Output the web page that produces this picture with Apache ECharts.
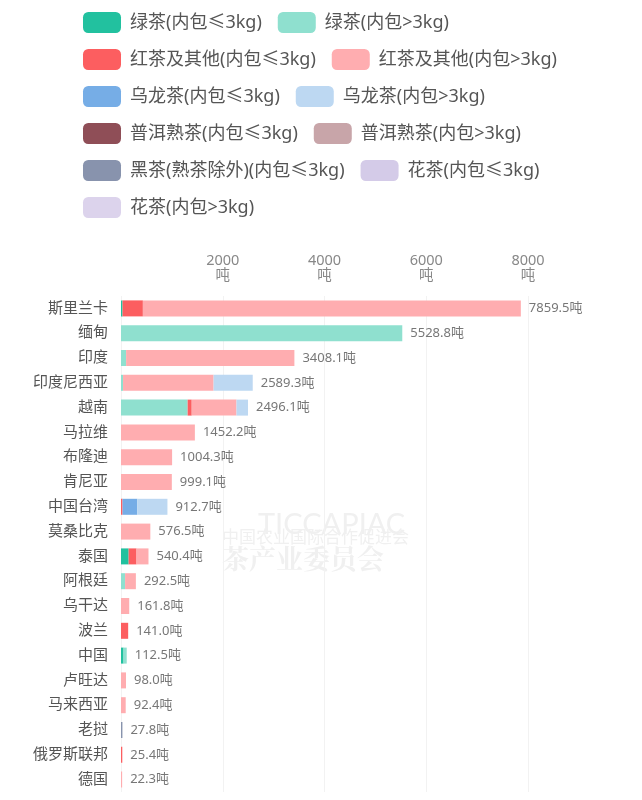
<!DOCTYPE html>
<html>
<head>
<meta charset="utf-8">
<script src="https://cdn.jsdelivr.net/npm/echarts@6/dist/echarts.min.js"></script>
<style>html,body{margin:0;padding:0;background:#fff;}#c{width:642px;height:800px;}</style>
</head>
<body>
<div id="c"></div>
<script>
const categories = ['斯里兰卡','缅甸','印度','印度尼西亚','越南','马拉维','布隆迪','肯尼亚','中国台湾','莫桑比克','泰国','阿根廷','乌干达','波兰','中国','卢旺达','马来西亚','老挝','俄罗斯联邦','德国'];
const totals = [7859.5,5528.8,3408.1,2589.3,2496.1,1452.2,1004.3,999.1,912.7,576.5,540.4,292.5,161.8,141.0,112.5,98.0,92.4,27.8,25.4,22.3];
const xTicks = [0,2000,4000,6000,8000];

const greenSmall  = [30,0,0,0,0,0,0,0,0,0,150,0,0,0,50,0,0,0,0,0];
const greenLarge  = [0,5528.8,100,40,1310,0,0,0,0,0,0,80,0,0,62.5,0,0,0,0,0];
const redSmall    = [400,0,0,0,80,0,0,0,30,0,155,0,0,141.0,0,0,0,0,25.4,0];
const redLarge    = [7429.5,0,3308.1,1780,880,1452.2,1004.3,999.1,0,576.5,235.4,212.5,161.8,0,0,98.0,92.4,0,0,22.3];
const oolongSmall = [0,0,0,0,0,0,0,0,290,0,0,0,0,0,0,0,0,0,0,0];
const oolongLarge = [0,0,0,769.3,226.1,0,0,0,592.7,0,0,0,0,0,0,0,0,0,0,0];
const puerSmall   = [0,0,0,0,0,0,0,0,0,0,0,0,0,0,0,0,0,0,0,0];
const puerLarge   = [0,0,0,0,0,0,0,0,0,0,0,0,0,0,0,0,0,0,0,0];
const darkSmall   = [0,0,0,0,0,0,0,0,0,0,0,0,0,0,0,0,0,27.8,0,0];
const flowerSmall = [0,0,0,0,0,0,0,0,0,0,0,0,0,0,0,0,0,0,0,0];
const flowerLarge = [0,0,0,0,0,0,0,0,0,0,0,0,0,0,0,0,0,0,0,0];

const seriesDefs = [
  ['绿茶(内包≤3kg)', greenSmall, '#22c19f'],
  ['绿茶(内包>3kg)', greenLarge, '#8fe0cf'],
  ['红茶及其他(内包≤3kg)', redSmall, '#fc5e60'],
  ['红茶及其他(内包>3kg)', redLarge, '#ffadb0'],
  ['乌龙茶(内包≤3kg)', oolongSmall, '#76ade6'],
  ['乌龙茶(内包>3kg)', oolongLarge, '#bdd8f2'],
  ['普洱熟茶(内包≤3kg)', puerSmall, '#8f4e57'],
  ['普洱熟茶(内包>3kg)', puerLarge, '#c8a5a9'],
  ['黑茶(熟茶除外)(内包≤3kg)', darkSmall, '#8893ad'],
  ['花茶(内包≤3kg)', flowerSmall, '#d4cbe8'],
  ['花茶(内包>3kg)', flowerLarge, '#dcd3ec']
];

const font = '"Noto Sans", "Noto Sans CJK SC", sans-serif';
const series = seriesDefs.map(d => ({
  name: d[0], type: 'bar', stack: 'a', data: d[1], barWidth: 16,
  itemStyle: { color: d[2] }, emphasis: { disabled: true }
}));
series.push({
  name: 'total', type: 'bar', stack: 'a', barWidth: 16,
  data: totals.map(() => 0),
  itemStyle: { color: 'transparent' },
  label: {
    show: true, position: 'right', distance: 8,
    color: '#777', fontSize: 13, fontFamily: font,
    formatter: p => totals[p.dataIndex].toFixed(1) + '吨'
  }
});

const chart = echarts.init(document.getElementById('c'));
chart.setOption({
  animation: false,
  backgroundColor: '#fff',
  legend: {
    data: seriesDefs.map(d => d[0]),
    left: 83, top: 12, width: 520, padding: 0,
    itemWidth: 38, itemHeight: 21, itemGap: 16,
    icon: 'roundRect',
    textStyle: { fontSize: 18, lineHeight: 21, color: '#555', fontFamily: font, padding: [0, 0, 0, 4] }
  },
  graphic: [
    { type: 'text', left: 258, top: 510, z: -1, style: { text: 'TICCAPIAC', fontSize: 29, fill: '#f0f0f0', fontFamily: 'Lato, sans-serif' } },
    { type: 'text', left: 222, top: 528, z: -1, style: { text: '中国农业国际合作促进会', fontSize: 17, fill: '#f0f0f0', fontFamily: '"Noto Sans CJK SC", sans-serif' } },
    { type: 'text', left: 222, top: 545, z: -1, style: { text: '茶产业委员会', fontSize: 27, fill: '#f0f0f0', fontFamily: '"Noto Serif CJK SC", serif', fontWeight: 'bold' } }
  ],
  grid: { left: 121, right: 114, top: 296, bottom: 8, containLabel: false },
  xAxis: {
    type: 'value', position: 'top', min: xTicks[0], max: xTicks[xTicks.length - 1], interval: 2000,
    axisLine: { show: false }, axisTick: { show: false },
    splitLine: { lineStyle: { color: '#f2f2f2' } },
    axisLabel: {
      color: '#888', fontSize: 14.5, fontFamily: font, lineHeight: 15, margin: 13,
      formatter: v => xTicks.indexOf(v) > 0 ? v + '\n吨' : ''
    }
  },
  yAxis: {
    type: 'category', data: categories, inverse: true,
    axisLine: { show: false }, axisTick: { show: false },
    axisLabel: { color: '#555', fontSize: 15, fontFamily: font, margin: 13 }
  },
  series: series
});
</script>
</body>
</html>
